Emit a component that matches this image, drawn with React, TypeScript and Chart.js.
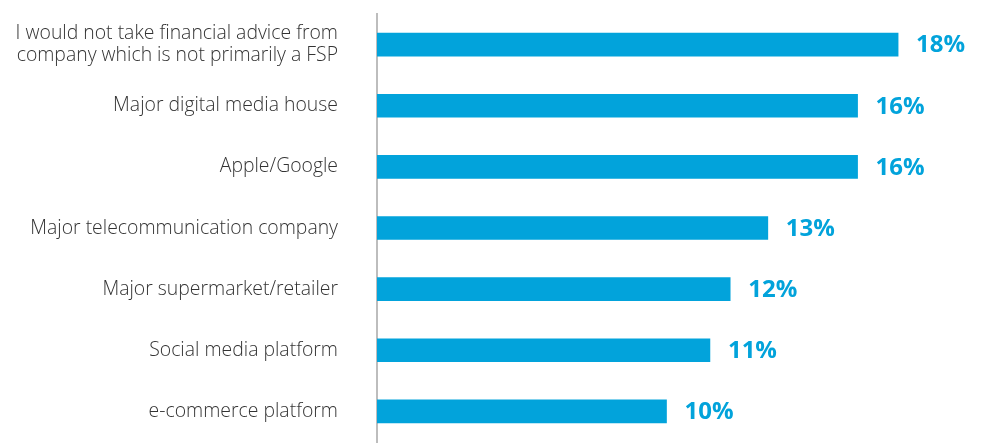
import React, { useEffect, useRef } from "react";
import { Chart, registerables } from "chart.js";

Chart.register(...registerables);

const categories: (string | string[])[] = [
  ["I would not take financial advice from", "company which is not primarily a FSP"],
  "Major digital media house",
  "Apple/Google",
  "Major telecommunication company",
  "Major supermarket/retailer",
  "Social media platform",
  "e-commerce platform",
];
const values = [18.0, 16.6, 16.6, 13.5, 12.2, 11.5, 10.0];
const valueLabels = ["18%", "16%", "16%", "13%", "12%", "11%", "10%"];

const BAR_COLOR = "#02a3db";

const valueLabelPlugin = {
  id: "valueLabels",
  afterDatasetsDraw(chart: any) {
    const ctx = chart.ctx;
    const meta = chart.getDatasetMeta(0);
    ctx.save();
    ctx.font = "bold 24px 'Open Sans'";
    ctx.fillStyle = BAR_COLOR;
    ctx.textAlign = "left";
    ctx.textBaseline = "middle";
    meta.data.forEach((el: any, i: number) => {
      ctx.fillText(valueLabels[i], el.x + 18, el.y + 1);
    });
    ctx.restore();
  },
};

export default function App() {
  const ref = useRef<HTMLCanvasElement>(null);
  useEffect(() => {
    if (!ref.current) return;
    const chart = new Chart(ref.current, {
      type: "bar",
      data: {
        labels: categories,
        datasets: [
          {
            data: values,
            backgroundColor: BAR_COLOR,
            barThickness: 23,
          },
        ],
      },
      options: {
        indexAxis: "y",
        animation: false,
        responsive: false,
        layout: { padding: { top: 14, bottom: 3, right: 26, left: 0 } },
        plugins: { legend: { display: false }, tooltip: { enabled: false } },
        scales: {
          x: {
            min: 0,
            max: 20,
            display: false,
          },
          y: {
            grid: { display: false },
            border: { display: true, color: "#bdbdbd", width: 2 },
            ticks: {
              color: "#333333",
              font: { family: "'Open Sans'", size: 19.4, weight: "300", lineHeight: 1.15 },
              padding: 31,
            },
            afterFit: (s: any) => {
              s.paddingTop = 0;
              s.paddingBottom = 0;
              s.width = 377;
            },
          },
        },
      },
      plugins: [valueLabelPlugin],
    });
    return () => chart.destroy();
  }, []);
  return (
    <div style={{ position: "fixed", left: 0, top: 0, width: 982, height: 445, background: "#fff" }}>
      <canvas ref={ref} width={982} height={445} />
    </div>
  );
}
